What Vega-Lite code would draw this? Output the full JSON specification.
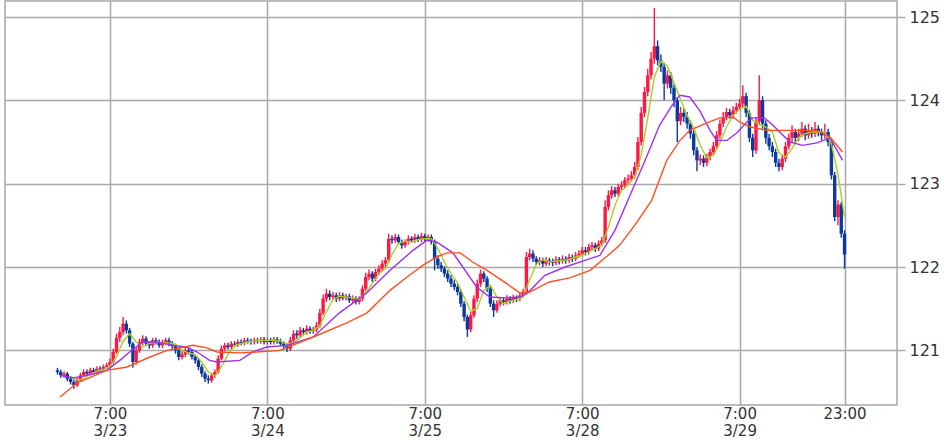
{
"$schema": "https://vega.github.io/schema/vega-lite/v6.json",
"width": 892, "height": 404, "autosize": "none",
"padding": {"left": 5, "top": 1, "right": 47, "bottom": 35},
"background": "white",
"config": {"view": {"stroke": "#a8a8a8", "strokeWidth": 1.5}, "font": "DejaVu Sans"},
"datasets": {
"candles": [
{"t":-8,"o":120.76,"h":120.79,"l":120.71,"c":120.74},
{"t":-7.5,"o":120.74,"h":120.77,"l":120.67,"c":120.70},
{"t":-7,"o":120.70,"h":120.75,"l":120.67,"c":120.72},
{"t":-6.5,"o":120.72,"h":120.74,"l":120.63,"c":120.66},
{"t":-6,"o":120.66,"h":120.69,"l":120.59,"c":120.62},
{"t":-5.5,"o":120.62,"h":120.65,"l":120.54,"c":120.58},
{"t":-5,"o":120.58,"h":120.67,"l":120.56,"c":120.64},
{"t":-4.5,"o":120.64,"h":120.73,"l":120.62,"c":120.70},
{"t":-4,"o":120.70,"h":120.77,"l":120.68,"c":120.74},
{"t":-3.5,"o":120.74,"h":120.77,"l":120.69,"c":120.72},
{"t":-3,"o":120.72,"h":120.79,"l":120.70,"c":120.76},
{"t":-2.5,"o":120.76,"h":120.79,"l":120.71,"c":120.74},
{"t":-2,"o":120.74,"h":120.81,"l":120.72,"c":120.78},
{"t":-1.5,"o":120.78,"h":120.81,"l":120.74,"c":120.77},
{"t":-1,"o":120.77,"h":120.83,"l":120.75,"c":120.80},
{"t":-0.5,"o":120.80,"h":120.85,"l":120.78,"c":120.82},
{"t":0,"o":120.82,"h":120.90,"l":120.80,"c":120.86},
{"t":0.5,"o":120.86,"h":121.02,"l":120.84,"c":120.98},
{"t":1,"o":120.98,"h":121.20,"l":120.96,"c":121.15},
{"t":1.5,"o":121.15,"h":121.28,"l":121.10,"c":121.22},
{"t":2,"o":121.22,"h":121.40,"l":121.18,"c":121.32},
{"t":2.5,"o":121.32,"h":121.36,"l":121.20,"c":121.24},
{"t":3,"o":121.24,"h":121.27,"l":121.04,"c":121.08},
{"t":3.5,"o":121.08,"h":121.10,"l":120.79,"c":120.86},
{"t":4,"o":120.86,"h":121.04,"l":120.83,"c":121.00},
{"t":4.5,"o":121.00,"h":121.14,"l":120.97,"c":121.10},
{"t":5,"o":121.10,"h":121.18,"l":121.06,"c":121.14},
{"t":5.5,"o":121.14,"h":121.17,"l":121.05,"c":121.08},
{"t":6,"o":121.08,"h":121.11,"l":121.02,"c":121.06},
{"t":6.5,"o":121.06,"h":121.15,"l":121.03,"c":121.12},
{"t":7,"o":121.12,"h":121.15,"l":121.07,"c":121.10},
{"t":7.5,"o":121.10,"h":121.13,"l":121.03,"c":121.06},
{"t":8,"o":121.06,"h":121.13,"l":121.03,"c":121.10},
{"t":8.5,"o":121.10,"h":121.15,"l":121.07,"c":121.12},
{"t":9,"o":121.12,"h":121.15,"l":121.05,"c":121.08},
{"t":9.5,"o":121.08,"h":121.11,"l":121.02,"c":121.05},
{"t":10,"o":121.05,"h":121.08,"l":120.96,"c":121.00},
{"t":10.5,"o":121.00,"h":121.03,"l":120.88,"c":120.92},
{"t":11,"o":120.92,"h":120.99,"l":120.89,"c":120.95},
{"t":11.5,"o":120.95,"h":121.04,"l":120.92,"c":121.00},
{"t":12,"o":121.00,"h":121.03,"l":120.95,"c":120.98},
{"t":12.5,"o":120.98,"h":121.01,"l":120.89,"c":120.92},
{"t":13,"o":120.92,"h":120.95,"l":120.84,"c":120.88},
{"t":13.5,"o":120.88,"h":120.91,"l":120.76,"c":120.80},
{"t":14,"o":120.80,"h":120.83,"l":120.68,"c":120.72},
{"t":14.5,"o":120.72,"h":120.75,"l":120.62,"c":120.66},
{"t":15,"o":120.66,"h":120.70,"l":120.60,"c":120.64},
{"t":15.5,"o":120.64,"h":120.73,"l":120.61,"c":120.70},
{"t":16,"o":120.70,"h":120.77,"l":120.67,"c":120.74},
{"t":16.5,"o":120.74,"h":120.94,"l":120.72,"c":120.90},
{"t":17,"o":120.90,"h":121.06,"l":120.88,"c":121.02},
{"t":17.5,"o":121.02,"h":121.09,"l":120.99,"c":121.06},
{"t":18,"o":121.06,"h":121.09,"l":121.01,"c":121.04},
{"t":18.5,"o":121.04,"h":121.11,"l":121.01,"c":121.08},
{"t":19,"o":121.08,"h":121.11,"l":121.04,"c":121.07},
{"t":19.5,"o":121.07,"h":121.13,"l":121.04,"c":121.10},
{"t":20,"o":121.10,"h":121.13,"l":121.06,"c":121.09},
{"t":20.5,"o":121.09,"h":121.15,"l":121.06,"c":121.12},
{"t":21,"o":121.12,"h":121.15,"l":121.08,"c":121.11},
{"t":21.5,"o":121.11,"h":121.14,"l":121.07,"c":121.10},
{"t":22,"o":121.10,"h":121.15,"l":121.07,"c":121.12},
{"t":22.5,"o":121.12,"h":121.15,"l":121.08,"c":121.11},
{"t":23,"o":121.11,"h":121.16,"l":121.08,"c":121.13},
{"t":23.5,"o":121.13,"h":121.16,"l":121.07,"c":121.10},
{"t":24,"o":121.10,"h":121.15,"l":121.07,"c":121.12},
{"t":24.5,"o":121.12,"h":121.15,"l":121.07,"c":121.10},
{"t":25,"o":121.10,"h":121.16,"l":121.07,"c":121.13},
{"t":25.5,"o":121.13,"h":121.16,"l":121.08,"c":121.11},
{"t":26,"o":121.11,"h":121.14,"l":121.05,"c":121.08},
{"t":26.5,"o":121.08,"h":121.11,"l":121.01,"c":121.05},
{"t":27,"o":121.05,"h":121.08,"l":120.98,"c":121.02},
{"t":27.5,"o":121.02,"h":121.16,"l":120.99,"c":121.12},
{"t":28,"o":121.12,"h":121.24,"l":121.09,"c":121.20},
{"t":28.5,"o":121.20,"h":121.24,"l":121.14,"c":121.18},
{"t":29,"o":121.18,"h":121.28,"l":121.15,"c":121.24},
{"t":29.5,"o":121.24,"h":121.27,"l":121.18,"c":121.22},
{"t":30,"o":121.22,"h":121.30,"l":121.19,"c":121.26},
{"t":30.5,"o":121.26,"h":121.29,"l":121.20,"c":121.23},
{"t":31,"o":121.23,"h":121.28,"l":121.20,"c":121.25},
{"t":31.5,"o":121.25,"h":121.34,"l":121.22,"c":121.30},
{"t":32,"o":121.30,"h":121.50,"l":121.27,"c":121.45},
{"t":32.5,"o":121.45,"h":121.67,"l":121.42,"c":121.62},
{"t":33,"o":121.62,"h":121.74,"l":121.58,"c":121.68},
{"t":33.5,"o":121.68,"h":121.72,"l":121.60,"c":121.64},
{"t":34,"o":121.64,"h":121.70,"l":121.60,"c":121.66},
{"t":34.5,"o":121.66,"h":121.69,"l":121.58,"c":121.62},
{"t":35,"o":121.62,"h":121.70,"l":121.59,"c":121.66},
{"t":35.5,"o":121.66,"h":121.69,"l":121.60,"c":121.63},
{"t":36,"o":121.63,"h":121.68,"l":121.60,"c":121.65},
{"t":36.5,"o":121.65,"h":121.68,"l":121.57,"c":121.60},
{"t":37,"o":121.60,"h":121.66,"l":121.57,"c":121.62},
{"t":37.5,"o":121.62,"h":121.65,"l":121.55,"c":121.58},
{"t":38,"o":121.58,"h":121.65,"l":121.55,"c":121.62},
{"t":38.5,"o":121.62,"h":121.78,"l":121.59,"c":121.74},
{"t":39,"o":121.74,"h":121.93,"l":121.71,"c":121.88},
{"t":39.5,"o":121.88,"h":121.97,"l":121.84,"c":121.92},
{"t":40,"o":121.92,"h":121.95,"l":121.82,"c":121.86},
{"t":40.5,"o":121.86,"h":121.98,"l":121.83,"c":121.94},
{"t":41,"o":121.94,"h":122.02,"l":121.90,"c":121.98},
{"t":41.5,"o":121.98,"h":122.08,"l":121.95,"c":122.04},
{"t":42,"o":122.04,"h":122.12,"l":122.00,"c":122.08},
{"t":42.5,"o":122.08,"h":122.40,"l":122.05,"c":122.34},
{"t":43,"o":122.34,"h":122.38,"l":122.28,"c":122.32},
{"t":43.5,"o":122.32,"h":122.40,"l":122.29,"c":122.36},
{"t":44,"o":122.36,"h":122.39,"l":122.27,"c":122.30},
{"t":44.5,"o":122.30,"h":122.33,"l":122.22,"c":122.26},
{"t":45,"o":122.26,"h":122.33,"l":122.23,"c":122.30},
{"t":45.5,"o":122.30,"h":122.38,"l":122.27,"c":122.34},
{"t":46,"o":122.34,"h":122.37,"l":122.29,"c":122.32},
{"t":46.5,"o":122.32,"h":122.40,"l":122.29,"c":122.36},
{"t":47,"o":122.36,"h":122.39,"l":122.30,"c":122.33},
{"t":47.5,"o":122.33,"h":122.41,"l":122.30,"c":122.37},
{"t":48,"o":122.37,"h":122.40,"l":122.31,"c":122.34},
{"t":48.5,"o":122.34,"h":122.39,"l":122.31,"c":122.36},
{"t":49,"o":122.36,"h":122.39,"l":122.27,"c":122.30},
{"t":49.5,"o":122.30,"h":122.33,"l":121.96,"c":122.10},
{"t":50,"o":122.10,"h":122.14,"l":121.98,"c":122.02},
{"t":50.5,"o":122.02,"h":122.06,"l":121.94,"c":121.98},
{"t":51,"o":121.98,"h":122.01,"l":121.88,"c":121.92},
{"t":51.5,"o":121.92,"h":121.96,"l":121.82,"c":121.86},
{"t":52,"o":121.86,"h":121.90,"l":121.76,"c":121.80},
{"t":52.5,"o":121.80,"h":121.84,"l":121.72,"c":121.76},
{"t":53,"o":121.76,"h":121.80,"l":121.66,"c":121.70},
{"t":53.5,"o":121.70,"h":121.73,"l":121.52,"c":121.56},
{"t":54,"o":121.56,"h":121.59,"l":121.35,"c":121.40},
{"t":54.5,"o":121.40,"h":121.43,"l":121.16,"c":121.25},
{"t":55,"o":121.25,"h":121.46,"l":121.22,"c":121.42},
{"t":55.5,"o":121.42,"h":121.66,"l":121.39,"c":121.62},
{"t":56,"o":121.62,"h":121.85,"l":121.58,"c":121.80},
{"t":56.5,"o":121.80,"h":121.97,"l":121.76,"c":121.92},
{"t":57,"o":121.92,"h":121.95,"l":121.82,"c":121.86},
{"t":57.5,"o":121.86,"h":121.89,"l":121.70,"c":121.74},
{"t":58,"o":121.74,"h":121.77,"l":121.52,"c":121.56},
{"t":58.5,"o":121.56,"h":121.60,"l":121.40,"c":121.48},
{"t":59,"o":121.48,"h":121.60,"l":121.45,"c":121.56},
{"t":59.5,"o":121.56,"h":121.64,"l":121.53,"c":121.60},
{"t":60,"o":121.60,"h":121.63,"l":121.54,"c":121.58},
{"t":60.5,"o":121.58,"h":121.66,"l":121.55,"c":121.62},
{"t":61,"o":121.62,"h":121.65,"l":121.56,"c":121.60},
{"t":61.5,"o":121.60,"h":121.67,"l":121.57,"c":121.63},
{"t":62,"o":121.63,"h":121.66,"l":121.58,"c":121.62},
{"t":62.5,"o":121.62,"h":121.70,"l":121.59,"c":121.66},
{"t":63,"o":121.66,"h":121.74,"l":121.63,"c":121.70},
{"t":63.5,"o":121.70,"h":122.18,"l":121.67,"c":122.12},
{"t":64,"o":122.12,"h":122.22,"l":122.08,"c":122.16},
{"t":64.5,"o":122.16,"h":122.20,"l":122.06,"c":122.10},
{"t":65,"o":122.10,"h":122.13,"l":122.02,"c":122.06},
{"t":65.5,"o":122.06,"h":122.12,"l":122.02,"c":122.08},
{"t":66,"o":122.08,"h":122.11,"l":122.00,"c":122.04},
{"t":66.5,"o":122.04,"h":122.12,"l":122.01,"c":122.08},
{"t":67,"o":122.08,"h":122.11,"l":122.02,"c":122.06},
{"t":67.5,"o":122.06,"h":122.10,"l":122.01,"c":122.05},
{"t":68,"o":122.05,"h":122.13,"l":122.02,"c":122.09},
{"t":68.5,"o":122.09,"h":122.12,"l":122.03,"c":122.07},
{"t":69,"o":122.07,"h":122.14,"l":122.04,"c":122.10},
{"t":69.5,"o":122.10,"h":122.13,"l":122.04,"c":122.08},
{"t":70,"o":122.08,"h":122.16,"l":122.05,"c":122.12},
{"t":70.5,"o":122.12,"h":122.15,"l":122.06,"c":122.10},
{"t":71,"o":122.10,"h":122.18,"l":122.07,"c":122.14},
{"t":71.5,"o":122.14,"h":122.20,"l":122.11,"c":122.16},
{"t":72,"o":122.16,"h":122.24,"l":122.13,"c":122.20},
{"t":72.5,"o":122.20,"h":122.24,"l":122.14,"c":122.18},
{"t":73,"o":122.18,"h":122.28,"l":122.15,"c":122.24},
{"t":73.5,"o":122.24,"h":122.30,"l":122.20,"c":122.26},
{"t":74,"o":122.26,"h":122.29,"l":122.18,"c":122.22},
{"t":74.5,"o":122.22,"h":122.32,"l":122.19,"c":122.28},
{"t":75,"o":122.28,"h":122.36,"l":122.25,"c":122.32},
{"t":75.5,"o":122.32,"h":122.80,"l":122.29,"c":122.72},
{"t":76,"o":122.72,"h":122.92,"l":122.68,"c":122.86},
{"t":76.5,"o":122.86,"h":122.97,"l":122.82,"c":122.92},
{"t":77,"o":122.92,"h":122.96,"l":122.84,"c":122.88},
{"t":77.5,"o":122.88,"h":123.00,"l":122.85,"c":122.96},
{"t":78,"o":122.96,"h":123.03,"l":122.92,"c":122.98},
{"t":78.5,"o":122.98,"h":123.08,"l":122.94,"c":123.04},
{"t":79,"o":123.04,"h":123.11,"l":123.00,"c":123.06},
{"t":79.5,"o":123.06,"h":123.15,"l":123.02,"c":123.10},
{"t":80,"o":123.10,"h":123.26,"l":123.06,"c":123.20},
{"t":80.5,"o":123.20,"h":123.56,"l":123.16,"c":123.50},
{"t":81,"o":123.50,"h":123.92,"l":123.46,"c":123.85},
{"t":81.5,"o":123.85,"h":124.16,"l":123.80,"c":124.10},
{"t":82,"o":124.10,"h":124.38,"l":124.05,"c":124.30},
{"t":82.5,"o":124.30,"h":124.58,"l":124.25,"c":124.50},
{"t":83,"o":124.50,"h":125.11,"l":124.44,"c":124.65},
{"t":83.5,"o":124.65,"h":124.72,"l":124.42,"c":124.48},
{"t":84,"o":124.48,"h":124.55,"l":124.34,"c":124.40},
{"t":84.5,"o":124.40,"h":124.45,"l":124.00,"c":124.20},
{"t":85,"o":124.20,"h":124.36,"l":124.14,"c":124.30},
{"t":85.5,"o":124.30,"h":124.34,"l":124.08,"c":124.15},
{"t":86,"o":124.15,"h":124.19,"l":123.92,"c":124.00},
{"t":86.5,"o":124.00,"h":124.04,"l":123.50,"c":123.75},
{"t":87,"o":123.75,"h":123.92,"l":123.70,"c":123.85},
{"t":87.5,"o":123.85,"h":123.90,"l":123.74,"c":123.80},
{"t":88,"o":123.80,"h":123.86,"l":123.66,"c":123.72},
{"t":88.5,"o":123.72,"h":123.76,"l":123.54,"c":123.60},
{"t":89,"o":123.60,"h":123.64,"l":123.34,"c":123.40},
{"t":89.5,"o":123.40,"h":123.44,"l":123.15,"c":123.28},
{"t":90,"o":123.28,"h":123.35,"l":123.22,"c":123.30},
{"t":90.5,"o":123.30,"h":123.34,"l":123.20,"c":123.25},
{"t":91,"o":123.25,"h":123.36,"l":123.21,"c":123.32},
{"t":91.5,"o":123.32,"h":123.42,"l":123.28,"c":123.38},
{"t":92,"o":123.38,"h":123.50,"l":123.34,"c":123.45},
{"t":92.5,"o":123.45,"h":123.63,"l":123.41,"c":123.58},
{"t":93,"o":123.58,"h":123.77,"l":123.54,"c":123.72},
{"t":93.5,"o":123.72,"h":123.86,"l":123.68,"c":123.80},
{"t":94,"o":123.80,"h":123.91,"l":123.76,"c":123.86},
{"t":94.5,"o":123.86,"h":123.90,"l":123.78,"c":123.82},
{"t":95,"o":123.82,"h":123.93,"l":123.78,"c":123.88},
{"t":95.5,"o":123.88,"h":123.97,"l":123.84,"c":123.92},
{"t":96,"o":123.92,"h":124.02,"l":123.88,"c":123.96},
{"t":96.5,"o":123.96,"h":124.18,"l":123.92,"c":124.05},
{"t":97,"o":124.05,"h":124.09,"l":123.80,"c":123.85},
{"t":97.5,"o":123.85,"h":123.88,"l":123.50,"c":123.55},
{"t":98,"o":123.55,"h":123.60,"l":123.32,"c":123.40},
{"t":98.5,"o":123.40,"h":123.80,"l":123.36,"c":123.75},
{"t":99,"o":123.75,"h":124.30,"l":123.70,"c":124.00},
{"t":99.5,"o":124.00,"h":124.05,"l":123.66,"c":123.72},
{"t":100,"o":123.72,"h":123.76,"l":123.48,"c":123.55},
{"t":100.5,"o":123.55,"h":123.60,"l":123.40,"c":123.45},
{"t":101,"o":123.45,"h":123.50,"l":123.32,"c":123.38},
{"t":101.5,"o":123.38,"h":123.42,"l":123.20,"c":123.25},
{"t":102,"o":123.25,"h":123.30,"l":123.15,"c":123.20},
{"t":102.5,"o":123.20,"h":123.35,"l":123.16,"c":123.30},
{"t":103,"o":123.30,"h":123.50,"l":123.26,"c":123.45},
{"t":103.5,"o":123.45,"h":123.60,"l":123.41,"c":123.55},
{"t":104,"o":123.55,"h":123.70,"l":123.50,"c":123.62},
{"t":104.5,"o":123.62,"h":123.66,"l":123.50,"c":123.55},
{"t":105,"o":123.55,"h":123.66,"l":123.51,"c":123.60},
{"t":105.5,"o":123.60,"h":123.74,"l":123.56,"c":123.66},
{"t":106,"o":123.66,"h":123.70,"l":123.52,"c":123.58},
{"t":106.5,"o":123.58,"h":123.72,"l":123.54,"c":123.64},
{"t":107,"o":123.64,"h":123.68,"l":123.55,"c":123.60},
{"t":107.5,"o":123.60,"h":123.74,"l":123.56,"c":123.66},
{"t":108,"o":123.66,"h":123.70,"l":123.57,"c":123.62},
{"t":108.5,"o":123.62,"h":123.66,"l":123.52,"c":123.58},
{"t":109,"o":123.58,"h":123.72,"l":123.54,"c":123.62},
{"t":109.5,"o":123.62,"h":123.66,"l":123.45,"c":123.50},
{"t":110,"o":123.50,"h":123.54,"l":123.05,"c":123.10},
{"t":110.5,"o":123.10,"h":123.14,"l":122.55,"c":122.60},
{"t":111,"o":122.60,"h":122.80,"l":122.50,"c":122.75},
{"t":111.5,"o":122.75,"h":122.78,"l":122.35,"c":122.40},
{"t":112,"o":122.40,"h":122.44,"l":121.98,"c":122.15}
],
"ma": [
{"s":"g","t":-6,"v":120.69},{"s":"g","t":-5,"v":120.64},{"s":"g","t":-4,"v":120.66},{"s":"g","t":-3,"v":120.71},{"s":"g","t":-2,"v":120.75},{"s":"g","t":-1,"v":120.77},{"s":"g","t":0,"v":120.81},{"s":"g","t":1,"v":120.92},{"s":"g","t":2,"v":121.11},{"s":"g","t":3,"v":121.20},{"s":"g","t":4,"v":121.10},{"s":"g","t":5,"v":121.04},{"s":"g","t":6,"v":121.08},{"s":"g","t":7,"v":121.10},{"s":"g","t":8,"v":121.09},{"s":"g","t":9,"v":121.09},{"s":"g","t":10,"v":121.07},{"s":"g","t":11,"v":121.00},{"s":"g","t":12,"v":120.97},{"s":"g","t":13,"v":120.95},{"s":"g","t":14,"v":120.86},{"s":"g","t":15,"v":120.74},{"s":"g","t":16,"v":120.69},{"s":"g","t":17,"v":120.80},{"s":"g","t":18,"v":120.95},{"s":"g","t":19,"v":121.05},{"s":"g","t":20,"v":121.08},{"s":"g","t":21,"v":121.10},{"s":"g","t":22,"v":121.11},{"s":"g","t":23,"v":121.12},{"s":"g","t":24,"v":121.12},{"s":"g","t":25,"v":121.12},{"s":"g","t":26,"v":121.11},{"s":"g","t":27,"v":121.08},{"s":"g","t":28,"v":121.09},{"s":"g","t":29,"v":121.15},{"s":"g","t":30,"v":121.22},{"s":"g","t":31,"v":121.24},{"s":"g","t":32,"v":121.30},{"s":"g","t":33,"v":121.46},{"s":"g","t":34,"v":121.61},{"s":"g","t":35,"v":121.65},{"s":"g","t":36,"v":121.64},{"s":"g","t":37,"v":121.63},{"s":"g","t":38,"v":121.61},{"s":"g","t":39,"v":121.69},{"s":"g","t":40,"v":121.80},{"s":"g","t":41,"v":121.92},{"s":"g","t":42,"v":121.98},{"s":"g","t":43,"v":122.15},{"s":"g","t":44,"v":122.28},{"s":"g","t":45,"v":122.31},{"s":"g","t":46,"v":122.30},{"s":"g","t":47,"v":122.33},{"s":"g","t":48,"v":122.34},{"s":"g","t":49,"v":122.34},{"s":"g","t":50,"v":122.22},{"s":"g","t":51,"v":122.06},{"s":"g","t":52,"v":121.92},{"s":"g","t":53,"v":121.81},{"s":"g","t":54,"v":121.64},{"s":"g","t":55,"v":121.47},{"s":"g","t":56,"v":121.50},{"s":"g","t":57,"v":121.72},{"s":"g","t":58,"v":121.78},{"s":"g","t":59,"v":121.64},{"s":"g","t":60,"v":121.56},{"s":"g","t":61,"v":121.59},{"s":"g","t":62,"v":121.61},{"s":"g","t":63,"v":121.64},{"s":"g","t":64,"v":121.85},{"s":"g","t":65,"v":122.03},{"s":"g","t":66,"v":122.09},{"s":"g","t":67,"v":122.06},{"s":"g","t":68,"v":122.07},{"s":"g","t":69,"v":122.08},{"s":"g","t":70,"v":122.09},{"s":"g","t":71,"v":122.12},{"s":"g","t":72,"v":122.14},{"s":"g","t":73,"v":122.18},{"s":"g","t":74,"v":122.22},{"s":"g","t":75,"v":122.26},{"s":"g","t":76,"v":122.48},{"s":"g","t":77,"v":122.74},{"s":"g","t":78,"v":122.92},{"s":"g","t":79,"v":122.98},{"s":"g","t":80,"v":123.08},{"s":"g","t":81,"v":123.34},{"s":"g","t":82,"v":123.79},{"s":"g","t":83,"v":124.28},{"s":"g","t":84,"v":124.47},{"s":"g","t":85,"v":124.41},{"s":"g","t":86,"v":124.21},{"s":"g","t":87,"v":124.01},{"s":"g","t":88,"v":123.82},{"s":"g","t":89,"v":123.67},{"s":"g","t":90,"v":123.46},{"s":"g","t":91,"v":123.31},{"s":"g","t":92,"v":123.34},{"s":"g","t":93,"v":123.49},{"s":"g","t":94,"v":123.68},{"s":"g","t":95,"v":123.82},{"s":"g","t":96,"v":123.89},{"s":"g","t":97,"v":123.93},{"s":"g","t":98,"v":123.76},{"s":"g","t":99,"v":123.71},{"s":"g","t":100,"v":123.68},{"s":"g","t":101,"v":123.62},{"s":"g","t":102,"v":123.37},{"s":"g","t":103,"v":123.32},{"s":"g","t":104,"v":123.42},{"s":"g","t":105,"v":123.55},{"s":"g","t":106,"v":123.60},{"s":"g","t":107,"v":123.62},{"s":"g","t":108,"v":123.62},{"s":"g","t":109,"v":123.62},{"s":"g","t":110,"v":123.48},{"s":"g","t":111,"v":123.11},{"s":"g","t":112,"v":122.60},
{"s":"p","t":-7.6,"v":120.70},{"s":"p","t":-5.6,"v":120.67},{"s":"p","t":-3.5,"v":120.70},{"s":"p","t":-0.5,"v":120.76},{"s":"p","t":1.5,"v":120.88},{"s":"p","t":3,"v":120.98},{"s":"p","t":5,"v":121.10},{"s":"p","t":7.2,"v":121.10},{"s":"p","t":9.6,"v":121.06},{"s":"p","t":11.7,"v":121.04},{"s":"p","t":13.3,"v":120.98},{"s":"p","t":15.2,"v":120.88},{"s":"p","t":16.3,"v":120.86},{"s":"p","t":19.8,"v":120.88},{"s":"p","t":21.8,"v":120.98},{"s":"p","t":23.9,"v":121.04},{"s":"p","t":27,"v":121.06},{"s":"p","t":31,"v":121.16},{"s":"p","t":35,"v":121.45},{"s":"p","t":39.2,"v":121.69},{"s":"p","t":42.7,"v":121.96},{"s":"p","t":46.2,"v":122.20},{"s":"p","t":48.3,"v":122.32},{"s":"p","t":49.8,"v":122.30},{"s":"p","t":52.3,"v":122.17},{"s":"p","t":53.8,"v":122.00},{"s":"p","t":55.9,"v":121.76},{"s":"p","t":57.9,"v":121.64},{"s":"p","t":60.5,"v":121.63},{"s":"p","t":62.5,"v":121.64},{"s":"p","t":63.7,"v":121.69},{"s":"p","t":66.3,"v":121.90},{"s":"p","t":69.4,"v":122.00},{"s":"p","t":72.4,"v":122.08},{"s":"p","t":74.7,"v":122.14},{"s":"p","t":77,"v":122.44},{"s":"p","t":79.3,"v":122.86},{"s":"p","t":81.6,"v":123.28},{"s":"p","t":83.8,"v":123.70},{"s":"p","t":85.7,"v":123.94},{"s":"p","t":86.9,"v":124.06},{"s":"p","t":88.4,"v":124.04},{"s":"p","t":89.9,"v":123.88},{"s":"p","t":91.5,"v":123.64},{"s":"p","t":92.5,"v":123.52},{"s":"p","t":94.1,"v":123.52},{"s":"p","t":95.6,"v":123.61},{"s":"p","t":97.1,"v":123.74},{"s":"p","t":98,"v":123.79},{"s":"p","t":99.8,"v":123.79},{"s":"p","t":101.1,"v":123.70},{"s":"p","t":102.1,"v":123.62},{"s":"p","t":103.7,"v":123.50},{"s":"p","t":105.6,"v":123.46},{"s":"p","t":107.8,"v":123.49},{"s":"p","t":109.8,"v":123.55},{"s":"p","t":111.7,"v":123.28},
{"s":"r","t":-7.6,"v":120.44},{"s":"r","t":-5,"v":120.61},{"s":"r","t":-0.5,"v":120.76},{"s":"r","t":2.6,"v":120.80},{"s":"r","t":6.1,"v":120.92},{"s":"r","t":8.7,"v":121.00},{"s":"r","t":12.7,"v":121.06},{"s":"r","t":14.8,"v":121.03},{"s":"r","t":16.3,"v":120.98},{"s":"r","t":19.8,"v":120.97},{"s":"r","t":22.4,"v":120.98},{"s":"r","t":25.9,"v":121.00},{"s":"r","t":31,"v":121.16},{"s":"r","t":36.1,"v":121.33},{"s":"r","t":39.2,"v":121.45},{"s":"r","t":42.7,"v":121.72},{"s":"r","t":45.3,"v":121.88},{"s":"r","t":47.7,"v":122.02},{"s":"r","t":49.8,"v":122.12},{"s":"r","t":51.4,"v":122.17},{"s":"r","t":53.4,"v":122.17},{"s":"r","t":55.3,"v":122.06},{"s":"r","t":57.5,"v":121.96},{"s":"r","t":60.5,"v":121.80},{"s":"r","t":62.5,"v":121.69},{"s":"r","t":64,"v":121.70},{"s":"r","t":67,"v":121.82},{"s":"r","t":70.1,"v":121.87},{"s":"r","t":73.2,"v":121.96},{"s":"r","t":75.5,"v":122.11},{"s":"r","t":77.7,"v":122.26},{"s":"r","t":80,"v":122.50},{"s":"r","t":82.6,"v":122.80},{"s":"r","t":84.9,"v":123.28},{"s":"r","t":86.9,"v":123.52},{"s":"r","t":88.4,"v":123.64},{"s":"r","t":91,"v":123.73},{"s":"r","t":93,"v":123.79},{"s":"r","t":95,"v":123.80},{"s":"r","t":96,"v":123.74},{"s":"r","t":97.6,"v":123.68},{"s":"r","t":100.2,"v":123.64},{"s":"r","t":102.6,"v":123.64},{"s":"r","t":107.8,"v":123.64},{"s":"r","t":109.8,"v":123.56},{"s":"r","t":111.7,"v":123.38}
]
},
"layer": [
{
"data": {"name": "candles"},
"mark": {"type": "rule", "strokeWidth": 1.4},
"encoding": {
"x": {"field": "t", "type": "quantitative", "title": null, "scale": {"domain": [-16, 120], "nice": false, "zero": false, "padding": 0},
"axis": {"values": [0, 24, 48, 72, 96, 112], "grid": true, "gridColor": "#a8a8a8", "gridWidth": 1.5, "domain": false, "ticks": false, "labelPadding": 1, "labelBaseline": "top", "labelFontSize": 15, "labelColor": "#333", "labelLineHeight": 17, "labelFlush": false,
"labelExpr": "datum.value == 112 ? '23:00' : ['7:00', datum.value == 0 ? '3/23' : datum.value == 24 ? '3/24' : datum.value == 48 ? '3/25' : datum.value == 72 ? '3/28' : '3/29']"}},
"y": {"field": "l", "type": "quantitative", "title": null, "scale": {"domain": [120.344, 125.192], "nice": false, "zero": false, "padding": 0},
"axis": {"orient": "right", "values": [121, 122, 123, 124, 125], "format": "d", "grid": true, "gridColor": "#a8a8a8", "gridWidth": 1.5, "domain": false, "tickSize": 8, "tickColor": "#a8a8a8", "tickWidth": 1.5, "labelPadding": 4, "labelFontSize": 16, "labelColor": "#333", "labelFlush": false}},
"y2": {"field": "h"},
"color": {"condition": {"test": "datum.c >= datum.o", "value": "#ff1744"}, "value": "#0a3aa0"}
}
},
{
"data": {"name": "candles"},
"mark": {"type": "bar", "size": 3.4},
"encoding": {
"x": {"field": "t", "type": "quantitative", "title": null},
"y": {"field": "o", "type": "quantitative", "title": null},
"y2": {"field": "c"},
"color": {"condition": {"test": "datum.c >= datum.o", "value": "#ff1744"}, "value": "#0a3aa0"}
}
},
{
"data": {"name": "ma"},
"mark": {"type": "line", "strokeWidth": 1.4},
"encoding": {
"x": {"field": "t", "type": "quantitative", "title": null},
"y": {"field": "v", "type": "quantitative", "title": null},
"detail": {"field": "s"},
"color": {"field": "s", "type": "nominal", "legend": null, "scale": {"domain": ["g", "p", "r"], "range": ["#a8d020", "#a030f0", "#ff5022"]}}
}
}
]
}
